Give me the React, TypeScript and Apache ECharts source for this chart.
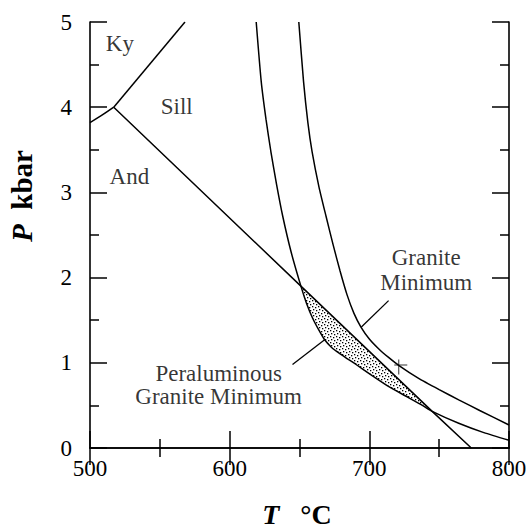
import { useEffect, useRef } from "react";
import * as echarts from "echarts";

// ---- data (T in °C, P in kbar) ----
const xTickValues = [500, 600, 700, 800];
const yTickValues = [0, 1, 2, 3, 4, 5];

const kyAnd: number[][] = [[500, 3.82], [508, 3.9], [517, 4.0]];
const kySill: number[][] = [[517, 4.0], [568, 5.0]];
const andSill: number[][] = [[517, 4.0], [651, 1.9], [745, 0.43], [773, 0]];

const peraluminousMin: number[][] = [
  [619, 5.0], [622.6, 4.3], [626, 3.86], [629.5, 3.48], [633.5, 3.1], [638, 2.72],
  [644, 2.3], [651, 1.9], [655, 1.7], [659.5, 1.52], [664, 1.38], [668, 1.27],
  [673, 1.18], [678.6, 1.11], [684, 1.05], [690.5, 0.98], [702, 0.85], [714, 0.72],
  [726, 0.61], [738, 0.5], [745, 0.43], [764, 0.29], [782, 0.18], [800, 0.09],
];

const graniteMin: number[][] = [
  [649.5, 5.0], [652.9, 4.3], [656, 3.82], [659, 3.48], [664, 3.06], [669, 2.72],
  [674, 2.39], [679, 2.08], [684, 1.8], [689, 1.58], [694, 1.42], [700, 1.28],
  [707, 1.16], [714, 1.06], [721, 0.97], [735, 0.82], [750, 0.685], [764, 0.565],
  [779, 0.44], [800, 0.27],
];

const crossMark: number[][] = [[722.5, 0.95]];
const graniteLeader: number[][] = [[713.8, 1.73], [694.3, 1.42]];
const peralLeader: number[][] = [[645, 0.98], [668, 1.27]];

const fieldLabels = ["Ky", "Sill", "And", "Granite\nMinimum", "Peraluminous\nGranite Minimum"];
const fieldLabelPos: number[][] = [[521.4, 4.75], [562.1, 4.01], [528.2, 3.19], [740.7, 2.09], [592.1, 0.74]];
const fieldLabelLineHeight = [24, 24, 24, 25, 23];

const lensFrom = 651;
const lensTo = 745;

const FONT = "'Liberation Serif', 'Times New Roman', serif";

export default function App() {
  const ref = useRef<HTMLDivElement>(null);

  useEffect(() => {
    if (!ref.current) return;
    const chart = echarts.init(ref.current, null, { renderer: "svg" });

    const canvas = document.createElement("canvas");
    canvas.width = 6;
    canvas.height = 6;
    const ctx = canvas.getContext("2d");
    if (ctx) {
      ctx.fillStyle = "#000";
      [[0, 0], [3, 1], [1, 3], [4, 4]].forEach(([x, y]) => ctx.fillRect(x, y, 1.3, 1.3));
    }
    const stipple: any = { image: canvas, repeat: "repeat", imageWidth: 6, imageHeight: 6 };

    const lensUpper = andSill.filter((p) => p[0] >= lensFrom && p[0] <= lensTo);
    const lensLower = peraluminousMin.filter((p) => p[0] >= lensFrom && p[0] <= lensTo);

    const lineSeries = (name: string, data: number[][], smooth: number, width = 1.5) => ({
      name,
      type: "line",
      data,
      smooth,
      symbol: "none",
      silent: true,
      lineStyle: { color: "#000", width },
      z: 3,
    });

    const tickStyle = { color: "#000", width: 1.5 };

    const baseX = {
      type: "value",
      min: 500,
      max: 800,
      interval: 100,
      splitLine: { show: false },
      axisLine: { show: true, lineStyle: { color: "#000", width: 1.6 } },
      axisTick: { show: true, inside: true, length: 17, lineStyle: tickStyle },
      minorTick: { show: true, splitNumber: 2, length: 9, lineStyle: tickStyle },
      minorSplitLine: { show: false },
    };
    const baseY = {
      type: "value",
      min: 0,
      max: 5,
      interval: 1,
      splitLine: { show: false },
      axisLine: { show: true, lineStyle: { color: "#000", width: 1.6 } },
      axisTick: { show: true, inside: true, length: 17, lineStyle: tickStyle },
      minorTick: { show: true, splitNumber: 2, length: 9, lineStyle: tickStyle },
      minorSplitLine: { show: false },
    };

    chart.setOption({
      animation: false,
      backgroundColor: "#fff",
      grid: { left: 90, right: 18, top: 22, bottom: 82, containLabel: false, outerBoundsMode: "none" },
      xAxis: [
        {
          ...baseX,
          position: "bottom",
          axisLabel: {
            show: true,
            margin: 9,
            color: "#000",
            fontFamily: FONT,
            fontSize: 23,
            formatter: (v: number) => (xTickValues.includes(v) ? String(v) : ""),
          },
        },
        { ...baseX, position: "top", axisLabel: { show: false } },
      ],
      yAxis: [
        {
          ...baseY,
          position: "left",
          axisLabel: {
            show: true,
            margin: 18,
            color: "#000",
            fontFamily: FONT,
            fontSize: 23,
            formatter: (v: number) => (yTickValues.includes(v) ? String(v) : ""),
          },
        },
        { ...baseY, position: "right", axisLabel: { show: false } },
      ],
      graphic: [
        {
          type: "text",
          x: 22,
          y: 196,
          rotation: Math.PI / 2,
          style: {
            text: "{p|P}{k|  kbar}",
            align: "center",
            verticalAlign: "middle",
            fill: "#000",
            rich: {
              p: { fontFamily: FONT, fontSize: 29, lineHeight: 28, fontStyle: "italic", fontWeight: "bold", fill: "#000" },
              k: { fontFamily: FONT, fontSize: 29, lineHeight: 28, fontWeight: "bold", fill: "#000" },
            },
          },
        },
        {
          type: "text",
          x: 297,
          y: 514,
          style: {
            text: "{t|T}{k|   °C}",
            align: "center",
            verticalAlign: "middle",
            fill: "#000",
            rich: {
              t: { fontFamily: FONT, fontSize: 28, lineHeight: 28, fontStyle: "italic", fontWeight: "bold", fill: "#000" },
              k: { fontFamily: FONT, fontSize: 28, lineHeight: 28, fontWeight: "bold", fill: "#000" },
            },
          },
        },
      ],
      series: [
        {
          name: "lens",
          type: "custom",
          silent: true,
          z: 2,
          data: [[lensFrom, 0]],
          renderItem: (_params: any, api: any) => {
            const pts = [
              ...lensUpper.map((p) => api.coord(p)),
              ...lensLower.slice().reverse().map((p) => api.coord(p)),
            ];
            return {
              type: "polygon",
              shape: { points: pts },
              style: { fill: stipple, stroke: "none" },
            };
          },
        },
        lineSeries("Ky-And", kyAnd, 0.4),
        lineSeries("Ky-Sill", kySill, 0),
        lineSeries("And-Sill", andSill, 0),
        lineSeries("Peraluminous granite minimum", peraluminousMin, 0.2),
        lineSeries("Granite minimum", graniteMin, 0.2),
        lineSeries("Granite leader", graniteLeader, 0, 1.3),
        lineSeries("Peraluminous leader", peralLeader, 0, 1.3),
        {
          name: "cross",
          type: "scatter",
          silent: true,
          data: crossMark,
          symbol: "path://M4,0 h1 v15 h-1 z M0,5 h13 v1 h-13 z",
          symbolSize: [13, 15],
          itemStyle: { color: "#000" },
          z: 4,
        },
        {
          name: "labels",
          type: "scatter",
          silent: true,
          symbolSize: 0,
          z: 5,
          data: fieldLabels.map((n, i) => ({
            name: n,
            value: fieldLabelPos[i],
            label: { lineHeight: fieldLabelLineHeight[i] },
          })),
          label: {
            show: true,
            position: "inside",
            align: "center",
            verticalAlign: "middle",
            formatter: (p: any) => p.name,
            color: "#000",
            fontFamily: FONT,
            fontSize: 23,
          },
        },
      ],
    });

    return () => chart.dispose();
  }, []);

  return (
    <div
      ref={ref}
      style={{ position: "absolute", left: 0, top: 0, width: 527, height: 530, background: "#fff" }}
    />
  );
}
